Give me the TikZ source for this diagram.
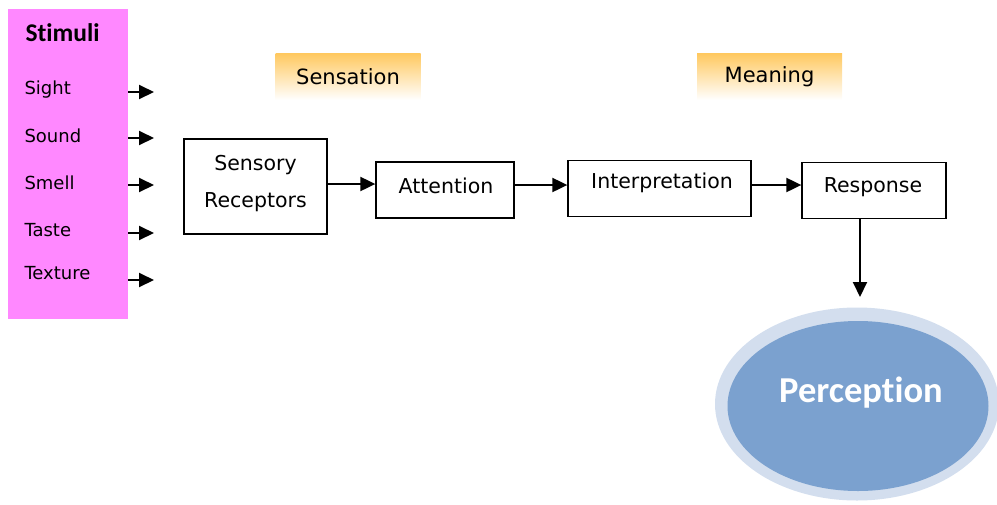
\documentclass[tikz,border=0pt]{standalone}
\usepackage{fontspec}
\setmainfont{DejaVu Sans}
\newfontfamily\headfont[Ligatures={NoCommon,NoContextual}]{Carlito}
\usetikzlibrary{arrows.meta,shapes.geometric}
\definecolor{stimpink}{HTML}{FF88FF}
\definecolor{tagorange}{HTML}{FFC85E}
\definecolor{ringblue}{HTML}{D3DEEE}
\definecolor{coreblue}{HTML}{7BA1CF}
\tikzset{
  procbox/.style={draw=black, line width=1.3pt, fill=white, minimum height=56pt},
  boxtext/.style={align=center, font=\fontsize{20.5}{37}\selectfont},
  flow/.style={-{Triangle[length=15pt,width=14pt]}, line width=2pt},
  tag/.style={minimum width=145pt, minimum height=47pt, top color=tagorange, bottom color=white, shading angle=0, draw=none, font=\fontsize{21}{24}\selectfont},
  stimtext/.style={anchor=west, font=\fontsize{18}{20}\selectfont},
}
\begin{document}
\begin{tikzpicture}[x=1pt,y=-1pt]
\useasboundingbox (0,0) rectangle (997,504);

% stimuli column
\fill[stimpink] (8,9) rectangle (128,319);
\node[anchor=west, font=\headfont\bfseries\fontsize{25.5}{28}\selectfont] (stim) at (22,33) {Stimuli};
\foreach \name/\txt/\ty/\ay in {sight/Sight/90/92, sound/Sound/136/138, smell/Smell/183/185, taste/Taste/230/233, texture/Texture/273/280}{
  \node[stimtext] (\name) at (21,\ty) {\txt};
  \coordinate (\name-a) at (128,\ay);
  \coordinate (\name-b) at (154,\ay);
  \draw[flow] (\name-a) -- (\name-b);
}

% stage tags
\node[tag] (sens) at (348,76.5) {Sensation};
\node[tag] (mean) at (769.5,76.5) {Meaning};

% process chain
\node[procbox, minimum width=143pt, minimum height=95pt] (rec) at (255.5,186.5) {};
\node[boxtext] (rect) at (255.5,184) {Sensory\\Receptors};
\node[procbox, minimum width=138pt] (att) at (445,190) {};
\node[boxtext] (attt) at (446,186) {Attention};
\node[procbox, minimum width=183pt, anchor=north] (int) at (659.5,160) {};
\node[boxtext] (intt) at (662,183) {Interpretation};
\node[procbox, minimum width=144pt, anchor=north] (resp) at (874,162) {};
\node[boxtext] (respt) at (873,187) {Response};

\draw[flow] (rec.east |- 0,184) -- (att.west |- 0,184);
\draw[flow] (att.east |- 0,185) -- (int.west |- 0,185);
\draw[flow] (int.east |- 0,185) -- (resp.west |- 0,185);

% result
\node[ellipse, fill=ringblue, minimum width=284pt, minimum height=193pt, inner sep=0pt] (ring) at (857,404) {};
\node[ellipse, fill=coreblue, minimum width=261pt, minimum height=170pt, inner sep=0pt] (perc) at (858,406) {};
\node[text=white, font=\headfont\bfseries\fontsize{36.5}{40}\selectfont] (perct) at (861,393) {Perception};

\draw[flow] (resp.south -| 860,0) -- (860,297);
\end{tikzpicture}
\end{document}
